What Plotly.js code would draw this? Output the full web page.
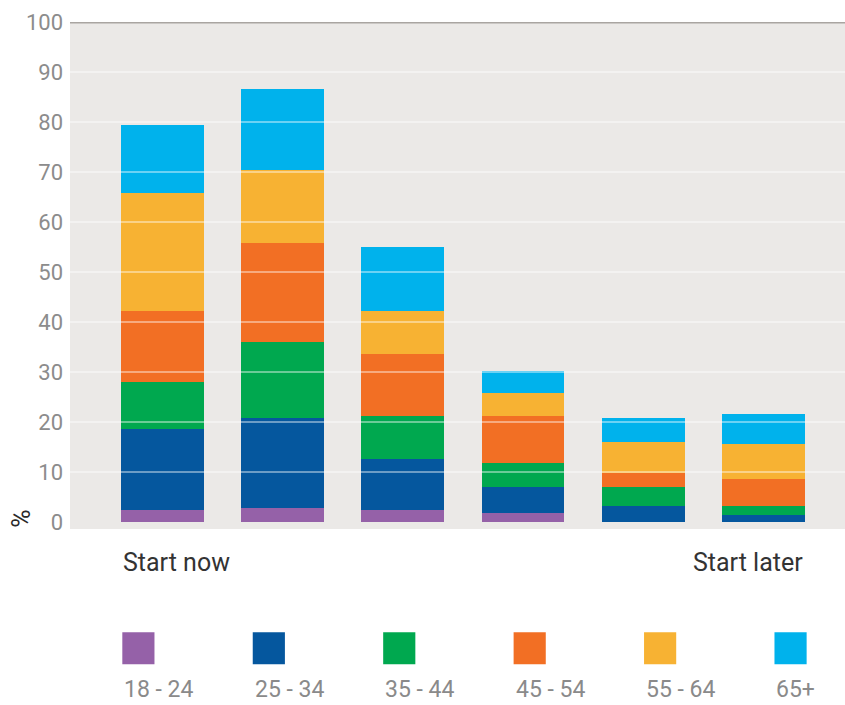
<!DOCTYPE html>
<html>
<head>
<meta charset="utf-8">
<script src="https://cdn.plot.ly/plotly-3.0.1.min.js"></script>
<style>
  html, body { margin: 0; padding: 0; background: #ffffff; }
  #chart { width: 845px; height: 705px; }
</style>
</head>
<body>
<div id="chart"></div>
<script>
// Stacked shares (%) by age band, from "Start now" to "Start later"
const positions = [0, 1, 2, 3, 4, 5];
const xTickLabels = ['Start now', '', '', '', '', 'Start later'];
const ageBands = ['18 - 24', '25 - 34', '35 - 44', '45 - 54', '55 - 64', '65+'];
const bandColors = ['#9561a8', '#05579e', '#00a84f', '#f26f24', '#f7b233', '#00b2ec'];

const age18to24 = [2.5, 2.9, 2.5, 1.8, 0.0, 0.0];
const age25to34 = [16.1, 18.0, 10.1, 5.2, 3.3, 1.4];
const age35to44 = [9.5, 15.1, 8.6, 4.9, 3.7, 1.9];
const age45to54 = [14.2, 19.9, 12.5, 9.4, 2.8, 5.3];
const age55to64 = [23.6, 14.5, 8.6, 4.5, 6.2, 7.0];
const age65plus = [13.6, 16.2, 12.7, 4.4, 4.8, 6.1];

const yTicks = [0, 10, 20, 30, 40, 50, 60, 70, 80, 90, 100];

const seriesValues = [age18to24, age25to34, age35to44, age45to54, age55to64, age65plus];
const barWidth = 0.69;
const yMin = -1.4, yMax = 100;

const traces = seriesValues.map((vals, i) => ({
  type: 'bar',
  name: ageBands[i],
  x: positions,
  y: vals,
  width: barWidth,
  marker: { color: bandColors[i], line: { width: 0 } },
  hoverinfo: 'name+y'
}));

const shapes = [];
// light gridlines laid over the bars
yTicks.filter(t => t > 0 && t < yMax).forEach(t => {
  shapes.push({
    type: 'line', layer: 'above', xref: 'paper', yref: 'y',
    x0: 0, x1: 1, y0: t, y1: t,
    line: { color: 'rgba(255,255,255,0.42)', width: 2 }
  });
});
// heavier rule along the top of the scale
shapes.push({
  type: 'line', layer: 'above', xref: 'paper', yref: 'y',
  x0: 0, x1: 1, y0: yMax, y1: yMax,
  line: { color: '#a9a5a1', width: 3 }
});

const annotations = [];
// category labels under the first and last bars
annotations.push({
  xref: 'x', yref: 'paper', x: positions[0] - barWidth / 2, y: -0.066,
  xanchor: 'left', yanchor: 'middle', showarrow: false,
  text: xTickLabels[0], font: { family: 'Roboto', size: 25, color: '#333333' }
});
annotations.push({
  xref: 'x', yref: 'paper', x: positions[positions.length - 1] + barWidth / 2, y: -0.066,
  xanchor: 'right', yanchor: 'middle', showarrow: false,
  text: xTickLabels[xTickLabels.length - 1], font: { family: 'Roboto', size: 25, color: '#333333' }
});
// axis unit
annotations.push({
  xref: 'paper', yref: 'paper', x: -0.062, y: 0.02,
  xanchor: 'center', yanchor: 'middle', showarrow: false, textangle: -90,
  text: '%', font: { family: 'Roboto', size: 25, color: '#2a2a2a' }
});

// key: colour swatch above each age band label
const keyLeft = 0.0675, keyStep = 0.1683;
ageBands.forEach((band, i) => {
  const x0 = keyLeft + i * keyStep;
  shapes.push({
    type: 'rect', xref: 'paper', yref: 'paper',
    x0: x0, x1: x0 + 0.0415, y0: -0.2667, y1: -0.2037,
    fillcolor: bandColors[i], line: { width: 0 }
  });
  annotations.push({
    xref: 'paper', yref: 'paper', x: x0, y: -0.316,
    xanchor: 'left', yanchor: 'middle', showarrow: false,
    text: band, font: { family: 'Roboto', size: 23, color: '#8a8a8a' }
  });
});

const layout = {
  width: 845, height: 705,
  margin: { l: 70, r: 0, t: 21.5, b: 175.5 },
  paper_bgcolor: '#ffffff',
  plot_bgcolor: '#ebe9e7',
  barmode: 'stack',
  showlegend: false,
  xaxis: {
    range: [-0.77, 5.68],
    tickvals: positions, ticktext: xTickLabels,
    showticklabels: false, showgrid: false, zeroline: false, showline: false, fixedrange: true
  },
  yaxis: {
    range: [yMin, yMax],
    tickvals: yTicks, ticktext: yTicks.map(String),
    showgrid: false, zeroline: false, showline: false,
    ticks: '', ticklabelstandoff: 6,
    tickfont: { family: 'Roboto', size: 22, color: '#8c8c8c' },
    fixedrange: true
  },
  shapes: shapes,
  annotations: annotations
};

Plotly.newPlot('chart', traces, layout, { displayModeBar: false, staticPlot: true });
</script>
</body>
</html>
